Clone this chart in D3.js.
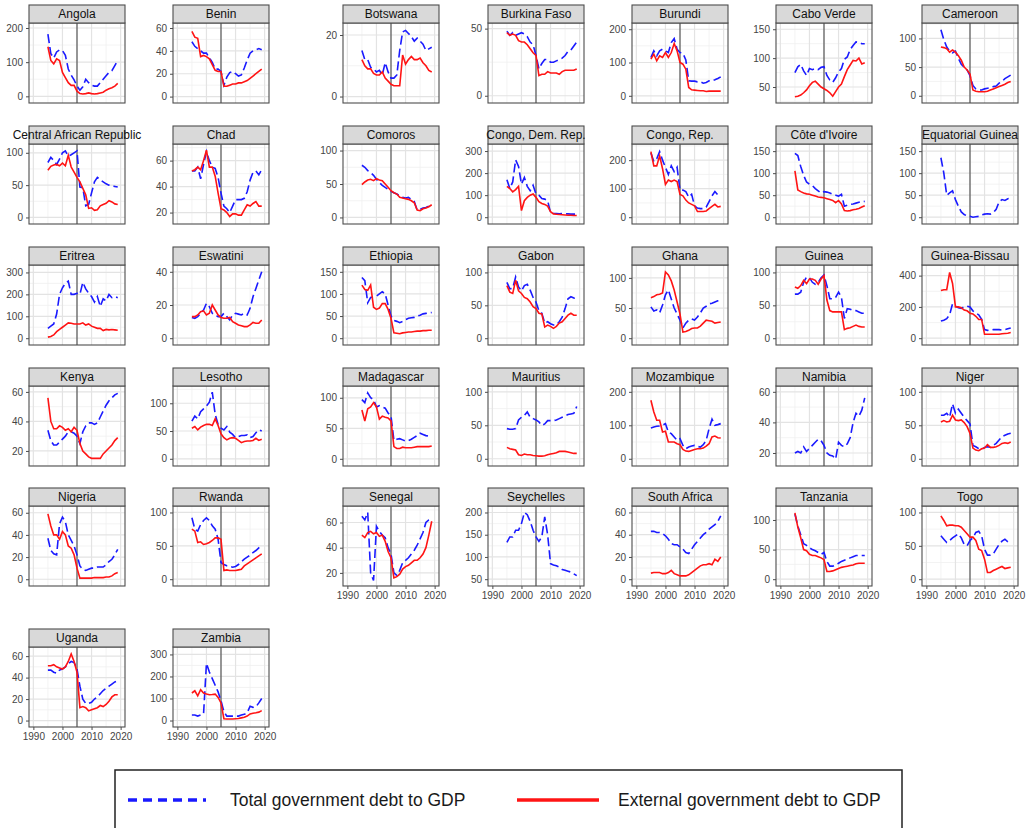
<!DOCTYPE html>
<html>
<head>
<meta charset="utf-8">
<script src="https://cdn.jsdelivr.net/npm/d3@7"></script>
<style>
  body { margin: 0; background: #fff; }
  svg { display: block; font-family: 'Liberation Sans', Arial, sans-serif; }
</style>
</head>
<body>
<div id="chart"></div>
<script>
// Government debt to GDP, SSA countries (facets)

const years = [1995,1996,1997,1998,1999,2000,2001,2002,2003,2004,2005,2006,2007,
  2008,2009,2010,2011,2012,2013,2014,2015,2016,2017,2018,2019];

const countries = ['Angola','Benin','Botswana','Burkina Faso','Burundi','Cabo Verde','Cameroon',
  'Central African Republic','Chad','Comoros','Congo, Dem. Rep.','Congo, Rep.',"C\u00f4te d'Ivoire",'Equatorial Guinea',
  'Eritrea','Eswatini','Ethiopia','Gabon','Ghana','Guinea','Guinea-Bissau',
  'Kenya','Lesotho','Madagascar','Mauritius','Mozambique','Namibia','Niger',
  'Nigeria','Rwanda','Senegal','Seychelles','South Africa','Tanzania','Togo',
  'Uganda','Zambia'];

// Total government debt to GDP (blue dashed), one row per country
const totalDebt = [
  [182,125,112,130,136,134,120,80,62,48,30,18,28,50,40,33,30,30,40,50,60,70,75,90,105],
  [48,44,42,40,38,38,34,30,24,24,22,10,17,21,22,20,18,19,25,32,38,40,41,42,41],
  [15,12,12,9.5,9,8,8.5,7,11,8,6,6,7,15,21,21.5,20.5,19.5,18,19,18,17,15,15.5,16],
  [48,45,47,45,46,47,46,44,40,38,30,20,24,27,27,25,25,26,27,28,30,33,34,37,40],
  [115,135,120,135,140,135,130,160,172,140,130,128,108,45,44,44,42,42,38,40,45,45,48,52,57],
  [75,85,89,78,70,82,80,82,80,84,85,70,62,58,66,76,82,98,102,115,122,128,127,125,125],
  [115,98,85,78,75,78,65,55,50,45,35,18,12,10,10,12,13,14,16,17,22,25,30,33,36],
  [85,93,88,82,90,100,103,95,97,100,103,47,46,18,20,38,55,62,58,55,52,50,49,48,47],
  [52,52,55,46,57,67,60,55,54,47,35,25,23,20,25,30,30,30,31,36,45,51,52,49,53],
  [78,75,70,67,63,57,52,48,45,42,39,37,35,32,30,29,30,27,24,11,12,14,15,17,19],
  [170,130,160,260,230,150,180,140,120,145,105,100,85,82,75,20,18,17,15,16,15,15,14,14,14],
  [225,195,205,230,200,175,150,180,160,175,95,95,90,70,80,40,32,30,30,35,55,75,90,78,80],
  [145,140,115,95,80,75,72,65,60,55,58,57,55,52,50,48,52,25,27,29,30,32,34,35,36],
  [135,100,50,55,60,40,25,12,6,3,2,0,1,2,5,7,8,7,10,18,35,40,38,42,43],
  [45,55,65,110,200,230,250,260,200,200,205,200,255,225,205,190,165,190,145,180,170,200,185,190,185],
  [12.5,12,13,15,17,21,19,15,14,13,13,15,13,11,14,15,14.5,14,15,14,18,25,30,35,40],
  [137,130,80,92,93,95,100,105,100,75,50,40,38,35,38,42,45,46,47,50,52,55,56,57,58],
  [85,75,76,93,78,72,80,82,73,62,55,42,38,23,25,22,20,20,25,32,45,60,63,61,60],
  [52,45,47,42,55,72,80,65,50,40,30,17,25,30,32,30,35,42,50,53,57,58,60,62,63],
  [67,67,70,85,93,92,85,82,85,92,96,80,60,60,62,70,62,30,45,44,42,42,40,38,38],
  [110,115,125,150,220,205,195,190,200,205,200,175,160,150,120,55,50,52,55,55,55,52,55,60,65],
  [34,27,24,24,26,28,30,33,33,32,30,25,33,37,39,39,38,39,43,47,51,54,56,58,59],
  [68,77,72,85,90,95,102,120,80,62,55,52,58,48,44,38,40,42,42,43,38,40,47,52,50],
  [97,92,108,100,97,85,87,85,83,75,70,30,32,33,31,29,30,32,35,38,42,40,38,37,38],
  [45,44,44,45,58,62,65,70,62,60,58,55,50,52,57,57,57,58,60,62,64,66,67,68,78],
  [92,95,97,98,100,105,80,75,65,55,60,40,30,35,38,40,37,35,42,55,90,118,100,102,105],
  [20,21,20,24,21,23,25,27,29,28,25,20,18.5,18,16,27,25,24,26,30,40,46,44,48,56],
  [65,65,68,62,82,68,74,68,62,57,52,20,18,15,14,17,18,17,20,23,28,33,35,37,38],
  [37,26,23,22,50,56,52,40,35,30,22,12,9,8,9,10,10,11,11,11,13,16,18,22,27],
  [92,75,72,82,88,92,88,80,75,60,25,22,20,19,18,19,22,26,30,33,36,40,43,47,51],
  [65,62,68,20,14,57,53,50,48,40,35,20,18,22,28,30,32,35,38,42,47,52,60,62,63],
  [133,145,145,160,160,175,200,195,180,160,145,135,145,190,150,85,82,80,77,72,70,68,66,62,58],
  [43,43,42,42,41,39,36,32,31,31,29,27,24,23,27,31,34,37,40,42,45,47,49,52,57],
  [110,90,75,60,57,53,50,48,45,42,45,30,22,22,24,27,30,32,34,36,38,40,40,40,40],
  [65,60,55,58,62,65,68,62,52,50,58,62,70,72,65,45,36,36,38,45,52,57,60,56,54],
  [47,47,45,44,47,48,50,53,55,54,48,32,20,16,16,17,20,22,25,28,30,32,34,36,37],
  [25,25,20,25,30,260,220,190,160,130,90,40,20,20,20,20,20,25,28,35,65,60,62,80,100]
];

// External government debt to GDP (red solid); null where not reported
const N = null;
const externalDebt = [
  [145,105,95,110,105,70,55,40,32,32,15,8,7,8,10,8,7,8,10,12,18,22,25,30,38],
  [57,52,51,35,36,35,33,28,23,22,22,9,9,10,11,11,12,12,13,14,16,18,20,22,24],
  [12,10,9,9,7.5,7,7,8,6,5,4,3.5,3.5,3.5,13.5,10.5,12,13,12,12,12.5,11,10,8.5,8],
  [47,45,46,45,41,40,40,38,35,32,30,15,16,16,18,17,17,17,16,18,19,19,19,19,20],
  [110,125,105,120,115,130,115,130,157,135,100,95,80,25,18,17,16,15,15,13,14,14,14,14,14],
  [33,34,36,40,45,52,58,60,55,50,47,44,40,34,42,50,55,68,80,88,96,95,100,90,92],
  [85,84,82,76,80,76,70,62,50,45,38,10,8,7,7,7,8,10,12,14,16,18,20,23,25],
  [73,79,81,82,80,84,80,96,78,70,62,55,45,35,14,15,11,12,18,20,22,26,24,21,20],
  [52,53,55,53,60,68,55,55,48,35,23,22,20,17,19,19,18,18,22,26,25,27,28.5,25,25],
  [49,53,56,57,55,58,56,55,50,45,40,37,35,30,29,28,27,25,22,11,10,13,14,16,19],
  [140,130,115,125,140,30,75,90,100,105,90,70,62,58,50,25,15,13,12,11,10,9,9,8,8],
  [230,180,180,215,170,115,130,125,130,125,80,75,60,50,45,40,20,20,20,22,30,38,45,36,38],
  [105,62,58,55,53,52,50,48,46,45,44,42,40,38,33,38,30,15,14,15,17,18,20,23,26],
  [N,N,N,N,N,N,N,N,N,N,N,N,N,N,N,N,N,N,N,N,N,N,N,N,N],
  [5,8,15,30,40,50,60,70,68,65,65,65,70,60,65,55,50,45,45,35,40,38,40,38,36],
  [13,13,14,16,16.5,14,15,20,17,14,12.5,12,12,12.5,10,9,8,7.5,7,7,8,9.5,9,9,11],
  [120,110,108,120,70,65,68,78,78,65,45,12,11,10,12,13,14,14,15,16,16,17,17,18,18],
  [80,70,68,88,72,68,62,60,55,48,45,38,37,17,20,18,15,18,23,25,30,35,38,35,35],
  [67,69,72,73,75,110,105,95,80,60,40,10,11,13,16,17,17,20,25,30,29,28,25,26,27],
  [78,76,80,88,83,90,90,88,82,90,95,58,42,40,40,40,40,13,15,16,18,20,18,17,17],
  [305,310,310,420,350,200,200,195,180,175,160,155,140,120,120,25,25,25,25,25,25,28,30,32,36],
  [56,40,35,35,37,36,34,35,33,36,34,25,20,18,16,15,15,15,15,18,20,22,24,27,29],
  [55,58,52,57,60,62,62,60,72,60,45,38,34,37,38,37,33,29,31,32,32,33,37,33,35],
  [80,62,82,85,92,85,65,70,68,67,62,20,17,17,19,18,18,18,19,20,20,20,20,20,21],
  [17,15,14,13,6,5,7,6,6,5,4.5,4,4,4.5,6,7,8,9,11,11,11,10,9,8,8],
  [175,140,115,115,80,82,50,50,50,45,42,28,23,22,25,28,30,30,32,38,45,65,68,63,62],
  [N,N,N,N,N,N,N,N,N,N,N,N,N,N,N,N,N,N,N,N,N,N,N,N,N],
  [55,57,55,56,65,58,57,58,54,48,38,16,13,12,15,16,21,17,17,18,20,23,24,23,25],
  [59,48,40,40,36,43,40,30,28,22,10,1,1,1,1,1,1.5,1.5,1.5,1.5,2,2,3,5,6],
  [75,72,55,56,52,53,55,58,62,62,60,13,14,13,13,13,14,15,20,23,26,29,32,35,38],
  [50,48,52,53,51,52,49,50,45,37,32,16,17,19,23,25,26,28,30,30,32,35,40,50,61],
  [N,N,N,N,N,N,N,N,N,N,N,N,N,N,N,N,N,N,N,N,N,N,N,N,N],
  [5.5,6,6,6,5,5,6,8,5,4,3,3,3,4,6,8,10,12,13,13,14,13,18,16,20],
  [112,88,70,50,48,42,40,40,38,36,33,13,13,14,16,18,20,21,22,23,24,26,27,27,27],
  [95,88,80,81,81,80,80,78,73,68,63,63,58,45,43,30,10,10,13,15,17,19,16,17,18],
  [51,51,52,50,49,48,50,55,62,55,45,12,13,12,9,10,11,12,14,13,15,18,22,24,24],
  [125,135,112,140,125,120,117,118,120,105,80,8,7,7,7,8,9,12,15,20,30,33,35,38,45]
];

// free y scales: limits and tick labels per panel
const yLimits = [
  [-19.5,214.6],[-5.6,64.4],[-2.1,23.9],[-5.4,54.2],[-21.6,218.7],[22.3,160.8],[-12.6,126.9],
  [-10.1,113.6],[11.2,72.8],[-9.8,109.8],[-30.9,332],[-23.8,256.7],[-15.4,166.2],[-15.4,166.2],
  [-31,334],[-4.1,44.1],[-15.4,165.4],[-10.3,111.3],[-11.3,121.4],[-10.3,111.3],[-43.5,468],
  [9.8,64],[-13,131.1],[-11.8,119.3],[-10.8,108.7],[-21.6,217.4],[11.5,63.8],[-10.8,108.7],
  [-6.1,66.1],[-10.2,109.7],[9.6,73.1],[34.7,214.6],[-6.1,65.8],[-11.5,123.6],[-10.2,109.7],
  [-6,68.5],[-29.4,333.8]
];
const yTicks = [
  [0,100,200],[0,20,40,60],[0,20],[0,50],[0,100,200],[50,100,150],[0,50,100],
  [0,50,100],[20,40,60],[0,50,100],[0,100,200,300],[0,100,200],[0,50,100,150],[0,50,100,150],
  [0,100,200,300],[0,20,40],[0,50,100,150],[0,50,100],[0,50,100],[0,50,100],[0,200,400],
  [20,40,60],[0,50,100],[0,50,100],[0,50,100],[0,100,200],[20,40,60],[0,50,100],
  [0,20,40,60],[0,50,100],[20,40,60],[50,100,150,200],[0,20,40,60],[0,50,100],[0,50,100],
  [0,20,40,60],[0,100,200,300]
];
const xTicks = [1990, 2000, 2010, 2020];
const xMinor = [1995, 2005, 2015];
const xLimits = [1988.5, 2021.5];
const markYear = 2005;

const legendLabels = ['Total government debt to GDP', 'External government debt to GDP'];

// ---- layout ----
const W = 1027, H = 828;
const colX = [29, 173, 343, 488, 632, 776, 922];
const rowY = [5, 126, 247, 368, 488, 629];
const panelW = 96, stripH = 18, panelH = 80;
const nCols = 7;
const tickFont = '10px';

const svg = d3.select('#chart').append('svg')
  .attr('width', W).attr('height', H);

const x = d3.scaleLinear().domain(xLimits).range([0, panelW]);

countries.forEach((name, i) => {
  const col = i % nCols, row = Math.floor(i / nCols);
  const g = svg.append('g')
    .attr('transform', `translate(${colX[col]},${rowY[row] + stripH})`);

  const y = d3.scaleLinear().domain(yLimits[i]).range([panelH, 0]);
  const ticks = yTicks[i];
  const step = ticks.length > 1 ? ticks[1] - ticks[0] : 0;
  const yMinor = [];
  if (step) {
    for (let v = ticks[0] - step / 2; v <= ticks[ticks.length - 1] + step; v += step) {
      if (v > yLimits[i][0] && v < yLimits[i][1]) yMinor.push(v);
    }
  }

  // panel background + grid
  g.append('rect').attr('width', panelW).attr('height', panelH).attr('fill', '#fff');
  g.selectAll('.ymin').data(yMinor).enter().append('line')
    .attr('x1', 0).attr('x2', panelW)
    .attr('y1', d => y(d)).attr('y2', d => y(d))
    .attr('stroke', '#f0f0f0').attr('stroke-width', 0.8);
  g.selectAll('.xmin').data(xMinor).enter().append('line')
    .attr('y1', 0).attr('y2', panelH)
    .attr('x1', d => x(d)).attr('x2', d => x(d))
    .attr('stroke', '#f0f0f0').attr('stroke-width', 0.8);
  g.selectAll('.ymaj').data(ticks).enter().append('line')
    .attr('x1', 0).attr('x2', panelW)
    .attr('y1', d => y(d)).attr('y2', d => y(d))
    .attr('stroke', '#e3e3e3').attr('stroke-width', 1.2);
  g.selectAll('.xmaj').data(xTicks).enter().append('line')
    .attr('y1', 0).attr('y2', panelH)
    .attr('x1', d => x(d)).attr('x2', d => x(d))
    .attr('stroke', '#e3e3e3').attr('stroke-width', 1.2);

  // 2005 marker
  g.append('line')
    .attr('x1', x(markYear)).attr('x2', x(markYear))
    .attr('y1', 0).attr('y2', panelH)
    .attr('stroke', '#606060').attr('stroke-width', 1.3);

  const clipId = 'clip' + i;
  g.append('clipPath').attr('id', clipId)
    .append('rect').attr('width', panelW).attr('height', panelH);

  const line = d3.line()
    .defined(d => d[1] != null)
    .x(d => x(d[0]))
    .y(d => y(d[1]));

  g.append('path')
    .datum(years.map((yr, k) => [yr, totalDebt[i][k]]))
    .attr('clip-path', `url(#${clipId})`)
    .attr('d', line)
    .attr('fill', 'none')
    .attr('stroke', '#1a1aff')
    .attr('stroke-width', 1.6)
    .attr('stroke-dasharray', '9,4');

  g.append('path')
    .datum(years.map((yr, k) => [yr, externalDebt[i][k]]))
    .attr('clip-path', `url(#${clipId})`)
    .attr('d', line)
    .attr('fill', 'none')
    .attr('stroke', '#ff1414')
    .attr('stroke-width', 1.6);

  // panel border
  g.append('rect').attr('width', panelW).attr('height', panelH)
    .attr('fill', 'none').attr('stroke', '#4d4d4d').attr('stroke-width', 1.1);

  // y axis
  const yAxis = d3.axisLeft(y).tickValues(ticks).tickSize(3).tickPadding(3);
  const ya = g.append('g').call(yAxis);
  ya.select('.domain').remove();
  ya.selectAll('line').attr('stroke', '#4d4d4d');
  ya.selectAll('text').attr('fill', '#444')
    .style('font-size', tickFont).style('font-family', "'Liberation Sans', Arial, sans-serif");

  // x axis only on the bottom panel of each column
  if (i + nCols >= countries.length) {
    const xAxis = d3.axisBottom(x).tickValues(xTicks).tickFormat(d3.format('d')).tickSize(3).tickPadding(3);
    const xa = g.append('g').attr('transform', `translate(0,${panelH})`).call(xAxis);
    xa.select('.domain').remove();
    xa.selectAll('line').attr('stroke', '#4d4d4d');
    xa.selectAll('text').attr('fill', '#444')
      .style('font-size', tickFont).style('font-family', "'Liberation Sans', Arial, sans-serif");
  }

  // strip
  g.append('rect')
    .attr('y', -stripH).attr('width', panelW).attr('height', stripH)
    .attr('fill', '#d9d9d9').attr('stroke', '#4d4d4d').attr('stroke-width', 1.1);
  g.append('text')
    .attr('x', panelW / 2).attr('y', -stripH / 2)
    .attr('dy', '0.36em')
    .attr('text-anchor', 'middle')
    .style('font-size', '12px')
    .attr('fill', '#111')
    .text(name);
});

// ---- legend ----
const lg = svg.append('g');
lg.append('rect')
  .attr('x', 115).attr('y', 770).attr('width', 787).attr('height', 80)
  .attr('fill', '#fff').attr('stroke', '#222').attr('stroke-width', 1.5);
lg.append('line')
  .attr('x1', 128).attr('x2', 206).attr('y1', 800).attr('y2', 800)
  .attr('stroke', '#1a1aff').attr('stroke-width', 3.5).attr('stroke-dasharray', '9,6');
lg.append('text')
  .attr('x', 230).attr('y', 800).attr('dy', '0.35em')
  .style('font-size', '17.5px').attr('fill', '#1a1a1a')
  .text(legendLabels[0]);
lg.append('line')
  .attr('x1', 517).attr('x2', 599).attr('y1', 800).attr('y2', 800)
  .attr('stroke', '#ff1414').attr('stroke-width', 3.5);
lg.append('text')
  .attr('x', 618).attr('y', 800).attr('dy', '0.35em')
  .style('font-size', '17.5px').attr('fill', '#1a1a1a')
  .text(legendLabels[1]);
</script>
</body>
</html>
